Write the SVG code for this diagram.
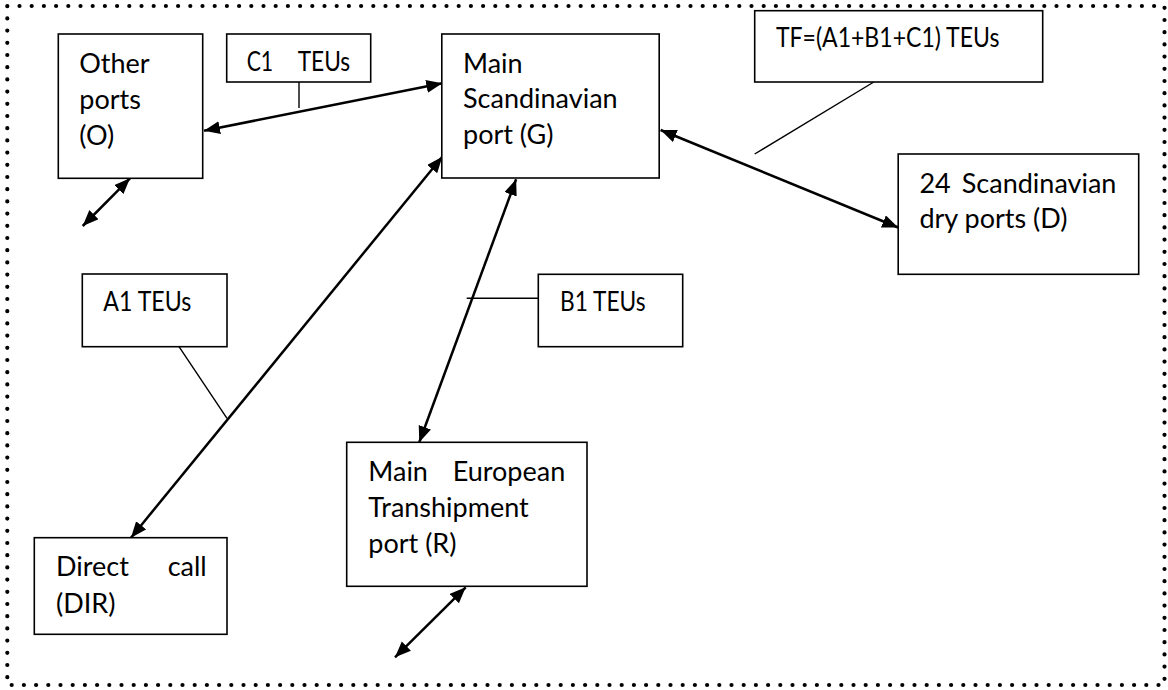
<svg xmlns="http://www.w3.org/2000/svg" width="1168" height="690" viewBox="0 0 1168 690">
<style>
  .box { fill: #fff; stroke: #000; stroke-width: 1.6; }
  .t { font-family: Lato, "Liberation Sans", sans-serif; font-size: 27px; fill: #000; }
  .arrow { stroke: #000; stroke-width: 2.5; fill: none; marker-start: url(#ah); marker-end: url(#ah); }
  .lead { stroke: #000; stroke-width: 1.4; fill: none; }
  .border { fill: none; stroke: #000; stroke-width: 4.2; stroke-linecap: round; stroke-dasharray: 0 12.2; }
</style>
<defs>
  <marker id="ah" markerUnits="userSpaceOnUse" markerWidth="18" markerHeight="14" refX="16" refY="6.5" orient="auto-start-reverse">
    <path d="M0,0 L16,6.5 L0,13 z" fill="#000"/>
  </marker>
</defs>
<rect class="border" x="7.3" y="6" width="1157.2" height="679"/>

<g id="connectors">
  <line class="arrow" x1="204" y1="130.7" x2="442.3" y2="83.3"/>
  <line class="arrow" x1="130" y1="178.3" x2="82.7" y2="226"/>
  <line class="arrow" x1="131" y1="537.7" x2="442.3" y2="156.7"/>
  <line class="arrow" x1="516.1" y1="179.3" x2="419.3" y2="442.3"/>
  <line class="arrow" x1="660.6" y1="130" x2="898.2" y2="227.5"/>
  <line class="arrow" x1="465.7" y1="587.3" x2="395" y2="657.3"/>
  <line class="lead" x1="299" y1="82" x2="299" y2="108"/>
  <line class="lead" x1="179" y1="346.7" x2="227" y2="418.3"/>
  <line class="lead" x1="466.7" y1="298.3" x2="538.3" y2="298.3"/>
  <line class="lead" x1="873.8" y1="82" x2="754.7" y2="154"/>
</g>

<g id="other-ports">
  <rect class="box" x="58.3" y="34" width="144.4" height="144.3"/>
  <text class="t" x="79.3" y="72.7">Other</text>
  <text class="t" x="79.3" y="109.3">ports</text>
  <text class="t" x="79.3" y="145">(O)</text>
</g>

<g id="c1-label">
  <rect class="box" x="226.7" y="34" width="144" height="48"/>
  <text class="t" x="246.7" y="70.7" textLength="26.5" lengthAdjust="spacingAndGlyphs">C1</text>
  <text class="t" x="297.7" y="70.7" textLength="52.5" lengthAdjust="spacingAndGlyphs">TEUs</text>
</g>

<g id="main-scandinavian">
  <rect class="box" x="441.8" y="34" width="217.4" height="144"/>
  <text class="t" x="463" y="72.7">Main</text>
  <text class="t" x="463" y="108.3">Scandinavian</text>
  <text class="t" x="463" y="144">port (G)</text>
</g>

<g id="tf-label">
  <rect class="box" x="754.7" y="10.7" width="288" height="71.3"/>
  <text class="t" x="775.9" y="46.7" textLength="223.5" lengthAdjust="spacingAndGlyphs">TF=(A1+B1+C1) TEUs</text>
</g>

<g id="dry-ports">
  <rect class="box" x="898.2" y="154" width="240.5" height="120.3"/>
  <text class="t" x="919.4" y="192.7">24</text>
  <text class="t" x="961.8" y="192.7">Scandinavian</text>
  <text class="t" x="919.4" y="227.7">dry ports (D)</text>
</g>

<g id="a1-label">
  <rect class="box" x="82.3" y="274" width="144.7" height="72.7"/>
  <text class="t" x="103.3" y="311" textLength="88" lengthAdjust="spacingAndGlyphs">A1 TEUs</text>
</g>

<g id="b1-label">
  <rect class="box" x="538.3" y="274.3" width="144.4" height="72.4"/>
  <text class="t" x="560" y="310.7" textLength="85.5" lengthAdjust="spacingAndGlyphs">B1 TEUs</text>
</g>

<g id="transhipment">
  <rect class="box" x="346.7" y="442.3" width="240.3" height="144"/>
  <text class="t" x="368.3" y="480.7">Main</text>
  <text class="t" x="452.7" y="480.7">European</text>
  <text class="t" x="368.3" y="516.7">Transhipment</text>
  <text class="t" x="368.3" y="552.7">port (R)</text>
</g>

<g id="direct-call">
  <rect class="box" x="34.3" y="537.7" width="192.7" height="96.6"/>
  <text class="t" x="56" y="576">Direct</text>
  <text class="t" x="167.7" y="576">call</text>
  <text class="t" x="56" y="612.7">(DIR)</text>
</g>
</svg>
